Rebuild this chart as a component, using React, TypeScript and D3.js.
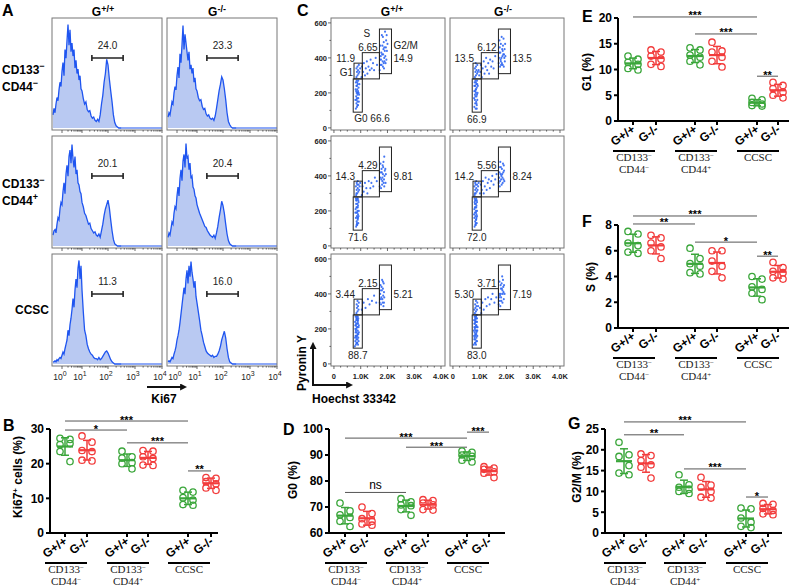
import * as d3 from 'd3';

const SANS = 'Arial, "Liberation Sans", Helvetica, sans-serif';
const SERIF = '"Times New Roman", "Liberation Serif", Times, serif';
const GREEN = '#3aa63a';
const RED = '#f23c3c';
const BLUE = '#1f55f0';
const HFILL = '#b9c9f2';

// ---------- shared categories ----------
const genotypes = ['G+/+', 'G-/-'];
const genoSup = ['+/+', '-/-'];
// [name, superscript] per line
const subsets: [string, string][][] = [
  [['CD133', '−'], ['CD44', '−']],
  [['CD133', '−'], ['CD44', '+']],
  [['CCSC', '']],
];

// ---------- panel A : Ki67 histograms, % of max, bins every 0.05 decade from 10^-0.45 ----------
const HIST_START = -0.45;
const HIST_STEP = 0.05;
const histDnWt = [12,18,14,22,28,25,35,42,38,52, 60,48,72,64,80,95,76,90,70,78, 66,72,55,62,50,54,44,48,36,34, 27,22,24,17,15,16,11,9,10,7, 6,8,6,12,22,30,42,50,63,58, 45,34,24,12,5,2,1,0,0,0];
const histDnKo = [10,14,12,18,24,22,32,38,35,48, 56,46,68,60,76,94,72,86,78,70, 62,70,54,58,50,55,42,46,36,34, 28,25,26,20,17,18,13,11,12,9, 8,9,7,11,18,26,34,40,47,44, 36,26,14,6,3,1,0,0,0,0];
const histCd44Wt = [10,14,15,12,20,26,24,34,40,38, 50,58,48,66,74,64,82,88,76,93, 80,72,82,66,70,58,56,50,48,40, 36,30,28,24,20,21,16,14,12,13, 10,9,11,8,14,20,28,34,38,42, 35,24,14,6,2,1,0,0,0,0];
const histCd44Ko = [8,12,10,16,22,20,30,36,34,46, 54,46,62,70,60,78,84,72,94,80, 82,70,76,62,64,54,52,46,44,38, 34,30,27,24,21,18,17,14,12,10, 9,8,10,7,12,18,26,33,41,37, 30,20,11,5,2,1,0,0,0,0];
const histCcscWt = [2,2,3,2,4,3,5,6,5,8, 11,9,14,18,22,31,26,36,42,50, 60,52,68,78,70,88,95,78,90,68, 48,31,26,18,14,11,9,8,6,5, 5,4,6,4,5,7,9,11,12,10, 7,4,2,1,0,0,0,0,0,0];
const histCcscKo = [2,3,2,4,6,5,9,12,16,22, 26,31,38,46,54,62,70,64,78,86, 74,90,80,94,84,78,70,76,62,56, 48,40,31,26,20,16,12,10,9,8, 7,8,6,7,7,9,12,16,22,26, 30,24,14,6,2,1,0,0,0,0];
const histRows = [[histDnWt, histDnKo], [histCd44Wt, histCd44Ko], [histCcscWt, histCcscKo]];
const ki67Gate = [1.38, 2.56]; // decades
const ki67GatePct = [[24.0, 23.3], [20.1, 20.4], [11.3, 16.0]];
const decadeTicks = [0, 1, 2, 3, 4];

// ---------- panel C : Hoechst / Pyronin Y scatter (x/10, y/10) ----------
const scatterRows = [
  [
    '82,11 86,12 90,13 84,14 88,15 93,15 80,16 86,17 91,17 83,18 88,19 94,19 85,20 90,21 81,22 87,22 92,23 84,24 89,25 95,25 82,26 87,26 91,27 85,27 88,13 85,16 89,20 83,21 86,24 92,20 84,29 88,30 92,31 86,32 95,32 90,33 84,34 98,34 88,35 93,36 103,29 105,35 109,32 112,37 116,30 119,34 123,38 125,31 129,35 134,33 137,39 141,34 146,37 150,33 156,40 161,36 171,33 176,39 174,36 180,42 183,35 185,45 189,38 192,41 195,50 198,44 173,47 177,43 179,53 182,38 186,49 188,40 191,55 194,46 184,42 178,36 181,47 187,34 190,44 196,39 200,48 175,41 183,52 188,46 193,37 172,39 186,37 197,53',
    '80,12 85,11 89,13 83,14 87,15 91,16 79,17 84,18 88,18 82,19 86,20 92,20 80,21 85,22 89,23 83,24 87,25 93,24 81,26 86,26 90,27 84,27 88,14 82,16 86,22 90,19 84,21 80,24 89,11 91,25 82,29 86,30 90,31 84,32 93,32 88,33 82,34 96,33 86,35 91,36 98,30 85,37 102,32 104,36 108,29 111,34 115,38 118,31 122,35 124,40 128,33 132,37 135,31 139,39 143,35 148,38 152,34 158,41 171,37 173,43 176,35 179,48 181,40 184,45 186,36 189,51 191,42 194,38 172,40 175,46 178,39 182,52 185,41 187,47 190,35 193,45 177,43 183,37 188,42 195,48 180,36 174,50 192,40 186,44 179,38 196,41',
  ],
  [
    '83,11 87,12 91,13 85,14 89,15 82,16 86,17 90,18 84,19 88,20 93,20 81,21 86,22 90,23 83,24 88,24 92,25 85,26 89,27 82,27 86,13 90,16 84,22 87,19 85,12 89,22 92,17 83,26 87,27 91,26 80,19 88,16 83,29 87,30 91,31 85,32 89,33 94,32 82,34 87,35 92,35 85,36 96,34 89,37 84,30 98,36 104,29 107,34 111,31 116,36 121,33 125,30 130,37 136,33 140,36 147,34 153,39 160,37 171,34 173,39 176,33 179,42 181,37 184,45 186,36 189,40 192,44 174,47 177,38 180,35 183,41 185,48 188,34 190,43 175,42 182,46 187,38 193,36 178,44 181,39 194,41 188,51',
    '81,11 85,12 89,13 83,14 87,15 80,16 84,17 88,18 82,19 86,20 90,20 80,21 84,22 88,23 82,24 86,24 90,25 83,26 87,27 81,27 85,13 88,16 82,22 86,19 84,12 87,22 90,17 81,25 85,26 89,26 79,18 86,15 81,29 85,30 89,31 83,32 87,33 92,32 80,34 85,35 90,35 83,36 94,34 87,37 82,30 96,36 101,30 104,35 108,32 112,37 115,30 119,34 122,39 126,32 130,36 134,38 138,33 143,37 147,40 152,35 158,38 163,41 171,36 174,42 176,37 179,45 182,35 184,41 187,47 189,38 191,43 173,39 177,48 180,38 183,44 186,36 188,42 175,34 181,40 185,39 190,46 178,41 172,45 192,37',
  ],
  [
    '78,10 82,11 86,12 90,11 80,13 84,14 88,14 92,13 79,15 83,16 87,16 91,17 81,18 85,18 89,19 93,18 80,20 84,20 88,21 92,21 82,22 86,23 90,23 79,24 83,25 87,25 91,26 81,27 85,27 89,27 84,12 88,17 82,19 86,21 90,25 80,22 87,12 93,22 85,15 83,23 89,24 81,16 86,26 91,15 84,26 84,29 88,30 92,31 86,32 90,33 85,34 93,35 88,36 104,31 111,35 118,32 127,37 133,34 142,36 150,39 158,35 171,35 173,40 176,34 178,44 181,37 183,47 185,33 187,41 174,45 177,38 179,42 182,35 184,39 186,46 180,48 175,37 188,38 183,43 172,42 187,35',
    '78,11 82,12 86,11 90,13 80,14 84,14 88,15 79,16 83,17 87,17 91,16 81,18 85,19 89,19 80,21 84,21 88,22 92,21 82,23 86,24 90,24 79,25 83,26 87,26 81,27 85,27 89,28 84,12 88,18 82,20 86,22 90,26 80,23 87,13 85,16 83,24 89,21 81,15 86,27 91,19 84,25 78,19 82,29 86,30 90,31 84,32 88,33 83,34 91,35 86,36 94,33 80,31 101,32 106,29 110,35 115,31 121,37 126,33 131,38 137,34 143,37 148,40 155,35 162,38 171,34 173,40 175,36 178,45 180,38 183,43 185,35 187,48 189,41 174,47 176,39 179,43 181,36 184,50 186,40 188,44 190,37 177,33 182,46 185,42 172,38 191,45 179,40 193,40',
  ],
];
// gate boxes [x0, x1, y0, y1] in data units
const gateG0 = [720, 1060, 90, 280];
const gateG1 = [750, 1060, 280, 370];
const gateS = [1060, 1700, 280, 430];
const gateG2M = [1700, 2150, 310, 565];
const pctG0 = [[66.6, 66.9], [71.6, 72.0], [88.7, 83.0]];
const pctG1 = [[11.9, 13.5], [14.3, 14.2], [3.44, 5.30]];
const pctS = [[6.65, 6.12], [4.29, 5.56], [2.15, 3.71]];
const pctG2M = [[14.9, 13.5], [9.81, 8.24], [5.21, 7.19]];
const pyroTicks = [0, 200, 400, 600];
const hoechstTicks = [0, 1000, 2000, 3000, 4000];
const hoechstLabels = ['0', '1.0K', '2.0K', '3.0K', '4.0K'];

// ---------- dot plots, groups: DN wt, DN ko, CD44+ wt, CD44+ ko, CCSC wt, CCSC ko ----------
const ki67Values = [
  [27.3, 27.0, 25.5, 25.8, 23.5, 20.6],
  [28.0, 26.2, 23.8, 23.5, 21.0, 20.8],
  [23.6, 22.0, 21.6, 20.3, 20.0, 18.5],
  [23.8, 23.6, 22.0, 21.5, 19.6, 19.5],
  [12.3, 11.8, 10.2, 9.5, 8.2, 8.0],
  [16.0, 15.8, 14.8, 14.2, 13.0, 12.3],
];
const g0Values = [
  [71.5, 68.5, 67.0, 66.0, 64.5, 62.5],
  [70.0, 67.5, 65.5, 64.5, 63.5, 63.0],
  [73.2, 72.0, 70.8, 70.5, 69.0, 66.8],
  [72.8, 72.5, 71.5, 70.8, 69.0, 68.8],
  [91.5, 91.0, 90.0, 89.5, 88.0, 87.3],
  [85.5, 85.0, 84.5, 83.5, 83.0, 81.3],
];
const g1Values = [
  [12.6, 12.0, 11.4, 11.0, 10.2, 9.9],
  [13.8, 13.4, 12.6, 12.0, 11.0, 10.6],
  [14.2, 13.8, 12.8, 12.4, 11.6, 10.9],
  [15.3, 13.6, 13.4, 12.4, 11.6, 10.5],
  [4.4, 4.1, 3.6, 3.3, 3.0, 2.9],
  [7.5, 6.9, 6.3, 5.6, 5.0, 4.5],
];
const sValues = [
  [7.5, 7.3, 6.6, 6.4, 5.9, 5.8],
  [7.2, 7.0, 6.6, 6.3, 6.0, 5.4],
  [6.2, 5.4, 5.0, 4.8, 4.3, 4.2],
  [6.0, 6.0, 5.2, 4.8, 4.4, 3.9],
  [4.0, 3.8, 3.2, 3.0, 2.7, 2.2],
  [5.1, 4.7, 4.4, 4.3, 3.9, 3.8],
];
const g2mValues = [
  [21.8, 18.8, 18.4, 16.2, 14.4, 14.0],
  [19.0, 18.6, 17.4, 16.4, 15.8, 13.2],
  [14.0, 11.6, 11.0, 10.5, 10.0, 9.5],
  [13.4, 11.5, 11.0, 10.0, 8.6, 8.4],
  [6.0, 5.8, 3.6, 2.6, 1.6, 1.3],
  [7.1, 6.9, 5.9, 5.4, 4.6, 4.4],
];
// [from group, to group, level, label]
const ki67Sig: [number, number, number, string][] = [[0, 4, 32.3, '***'], [0, 2, 29.7, '*'], [2, 4, 26.0, '***'], [4, 5, 17.9, '**']];
const g0Sig: [number, number, number, string][] = [[0, 4, 96.5, '***'], [2, 4, 93.0, '***'], [4, 5, 98.8, '***'], [0, 2, 75.6, 'ns']];
const g1Sig: [number, number, number, string][] = [[0, 4, 20.2, '***'], [2, 4, 16.9, '***'], [4, 5, 8.7, '**']];
const sSig: [number, number, number, string][] = [[0, 4, 8.7, '***'], [0, 2, 8.08, '**'], [2, 4, 6.67, '*'], [4, 5, 5.58, '**']];
const g2mSig: [number, number, number, string][] = [[0, 4, 26.7, '***'], [0, 2, 23.6, '**'], [2, 4, 15.4, '***'], [4, 5, 8.65, '*']];

type DotCfg = {
  letter: string; lx: number; ly: number;
  x0: number; top: number; bottom: number; len: number;
  domain: [number, number]; ticks: number[]; offsets: number[];
  values: number[][]; sig: [number, number, number, string][];
  title: [string, string][]; tx: number; ty: number;
};

const dotPanels: DotCfg[] = [
  { letter: 'B', lx: 3, ly: 431, x0: 50, top: 429, bottom: 533, len: 168, domain: [0, 30], ticks: [0, 10, 20, 30],
    offsets: [15, 37, 77, 98, 138, 161], values: ki67Values, sig: ki67Sig,
    title: [['Ki67', '+'], [' cells (%)', '']], tx: 22, ty: 477 },
  { letter: 'D', lx: 283, ly: 435, x0: 329, top: 429, bottom: 533, len: 176, domain: [60, 100], ticks: [60, 70, 80, 90, 100],
    offsets: [16, 38, 77, 99, 138, 160], values: g0Values, sig: g0Sig,
    title: [['G0 (%)', '']], tx: 297, ty: 480 },
  { letter: 'E', lx: 582, ly: 22, x0: 618, top: 18, bottom: 121, len: 171, domain: [0, 20], ticks: [0, 5, 10, 15, 20],
    offsets: [15, 38, 77, 99, 139, 160], values: g1Values, sig: g1Sig,
    title: [['G1 (%)', '']], tx: 591, ty: 72 },
  { letter: 'F', lx: 582, ly: 227, x0: 618, top: 225, bottom: 328, len: 171, domain: [0, 8], ticks: [0, 2, 4, 6, 8],
    offsets: [15, 38, 77, 99, 139, 160], values: sValues, sig: sSig,
    title: [['S (%)', '']], tx: 595, ty: 277 },
  { letter: 'G', lx: 568, ly: 429, x0: 605, top: 429, bottom: 533, len: 177, domain: [0, 25], ticks: [0, 5, 10, 15, 20, 25],
    offsets: [19, 41, 79, 101, 141, 163], values: g2mValues, sig: g2mSig,
    title: [['G2/M (%)', '']], tx: 581, ty: 477 },
];

// ---------- layout ----------
const ROW_Y = [18, 136, 254];
const BOX_H = 112;
const HIST_X = [52, 167];
const HIST_W = 110;
const SCAT_X = [331, 450];
const SCAT_W = 114;

function titleSpans(parts: [string, string][]) {
  const out: JSX.Element[] = [];
  let shifted = false;
  parts.forEach(([t, s], i) => {
    if (t) {
      out.push(<tspan key={`t${i}`} dy={shifted ? 4 : 0}>{t}</tspan>);
      shifted = false;
    }
    if (s) {
      out.push(<tspan key={`s${i}`} fontSize={8} dy={-4}>{s}</tspan>);
      shifted = true;
    }
  });
  return out;
}

function GenoHeader({ x, i }: { x: number; i: number }) {
  return (
    <text x={x} y={16} textAnchor="middle" fontWeight="bold" fontSize={12}>
      G<tspan fontSize={9} dy={-4}>{genoSup[i]}</tspan>
    </text>
  );
}

function Histo({ row, col }: { row: number; col: number }) {
  const x0 = HIST_X[col];
  const y0 = ROW_Y[row];
  const data = histRows[row][col];
  const xs = d3.scaleLinear().domain(decadeTicks).range([x0 + 10, x0 + 30, x0 + 56, x0 + 83, x0 + 110]);
  const ys = d3.scaleLinear().domain([0, 100]).range([y0 + BOX_H - 2, y0 + 1]);
  const pts: [number, number][] = data.map((v, i) => [HIST_START + i * HIST_STEP, v]);
  const area = d3.area<[number, number]>().x(d => xs(d[0])).y0(ys(0)).y1(d => ys(d[1]));
  const line = d3.line<[number, number]>().x(d => xs(d[0])).y(d => ys(d[1]));
  const lastX = xs(pts[pts.length - 1][0]);
  const minor: { p: number; major: boolean }[] = [];
  for (let d = 0; d < 4; d++) for (let m = 1; m < 10; m++) minor.push({ p: d + Math.log10(m), major: m === 1 });
  minor.push({ p: 4, major: true });
  const gy = y0 + 40;
  const g1 = xs(ki67Gate[0]);
  const g2 = xs(ki67Gate[1]);
  return (
    <g>
      <path d={area(pts) || ''} fill={HFILL} />
      <path d={line(pts) || ''} fill="none" stroke={BLUE} strokeWidth={1.3} />
      <line x1={lastX} x2={x0 + HIST_W} y1={ys(0)} y2={ys(0)} stroke={BLUE} strokeWidth={1.2} />
      <rect x={x0} y={y0} width={HIST_W} height={BOX_H} fill="none" stroke="#777" strokeWidth={1} />
      {minor.map((t, i) => (
        <line key={i} x1={xs(t.p)} x2={xs(t.p)} y1={y0 + BOX_H} y2={y0 + BOX_H + (t.major ? 3 : 1.6)} stroke="#444" strokeWidth={0.8} />
      ))}
      <line x1={g1} x2={g2} y1={gy} y2={gy} stroke="#222" strokeWidth={1.6} />
      <line x1={g1} x2={g1} y1={gy - 3} y2={gy + 3} stroke="#222" strokeWidth={1.6} />
      <line x1={g2} x2={g2} y1={gy - 3} y2={gy + 3} stroke="#222" strokeWidth={1.6} />
      <text x={(g1 + g2) / 2} y={y0 + 31} textAnchor="middle" fontSize={10} fill="#222">{ki67GatePct[row][col].toFixed(1)}</text>
      {row === 2 && decadeTicks.map(d => (
        <text key={d} x={xs(d) - 2} y={380} textAnchor="middle" fontSize={8.5} fill="#222">
          10<tspan fontSize={7} dy={-4}>{d}</tspan>
        </text>
      ))}
    </g>
  );
}

function PanelA() {
  const rowLabelBase = [[74, 91], [188, 205], [314]];
  return (
    <g>
      <text x={2} y={16} fontSize={16} fontWeight="bold">A</text>
      <GenoHeader x={103} i={0} />
      <GenoHeader x={217} i={1} />
      {subsets.map((lines, r) => lines.map(([t, s], k) => (
        <text key={`${r}-${k}`} x={lines.length === 1 ? 15 : 2} y={rowLabelBase[r][k]} fontSize={12} fontWeight="bold">
          {t}{s ? <tspan fontSize={9} dy={-5}>{s}</tspan> : null}
        </text>
      )))}
      {[0, 1, 2].map(r => [0, 1].map(c => <Histo key={`${r}${c}`} row={r} col={c} />))}
      <line x1={147} x2={185} y1={387} y2={387} stroke="#111" strokeWidth={2} markerEnd="url(#arr)" />
      <text x={164} y={403} textAnchor="middle" fontSize={12} fontWeight="bold">Ki67</text>
    </g>
  );
}

const fmtPct = (v: number) => (v >= 10 ? v.toFixed(1) : v.toFixed(2));

function Scatter({ row, col }: { row: number; col: number }) {
  const x0 = SCAT_X[col];
  const y0 = ROW_Y[row];
  const xs = d3.scaleLinear().domain([-110, 4150]).range([x0, x0 + SCAT_W]);
  const ys = d3.scaleLinear().domain([-12, 628]).range([y0 + BOX_H, y0]);
  const pts = scatterRows[row][col].split(' ').map(p => p.split(',').map(v => +v * 10));
  const gate = (g: number[]) => (
    <rect x={xs(g[0])} y={ys(g[3])} width={xs(g[1]) - xs(g[0])} height={ys(g[2]) - ys(g[3])} fill="none" stroke="#222" strokeWidth={1} />
  );
  const first = row === 0 && col === 0;
  const g1Base = ys(gateG1[3]) - 1.5;
  const sx = (xs(gateS[0]) + xs(gateS[1])) / 2 - 3;
  const g0x = (xs(gateG0[0]) + xs(gateG0[1])) / 2;
  const xMinor = d3.range(0, 4001, 250);
  const yMinor = d3.range(0, 601, 100);
  return (
    <g>
      <rect x={x0} y={y0} width={SCAT_W} height={BOX_H} fill="none" stroke="#777" strokeWidth={1} />
      {xMinor.map(v => (
        <line key={v} x1={xs(v)} x2={xs(v)} y1={y0 + BOX_H} y2={y0 + BOX_H + (v % 1000 === 0 ? 3 : 1.6)} stroke="#444" strokeWidth={0.8} />
      ))}
      {col === 0 && yMinor.map(v => (
        <line key={v} x1={x0} x2={x0 - (v % 200 === 0 ? 3 : 1.6)} y1={ys(v)} y2={ys(v)} stroke="#444" strokeWidth={0.8} />
      ))}
      {col === 0 && pyroTicks.map(v => (
        <text key={v} x={x0 - 4} y={ys(v) + 3} textAnchor="end" fontSize={7.5} fontWeight="bold" fill="#222">{v}</text>
      ))}
      {row === 2 && hoechstTicks.map((v, i) => (
        <text key={v} x={xs(v)} y={379} textAnchor="middle" fontSize={7.5} fontWeight="bold" fill="#222">{hoechstLabels[i]}</text>
      ))}
      {pts.map((p, i) => <circle key={i} cx={xs(p[0])} cy={ys(p[1])} r={1.05} fill="#2f66f2" opacity={0.9} />)}
      {gate(gateG0)}
      {gate(gateG1)}
      {gate(gateS)}
      {gate(gateG2M)}
      <g fontSize={10} fill="#222">
        <text x={sx} y={ys(gateS[3]) - 2} textAnchor="middle">{pctS[row][col].toFixed(2)}</text>
        <text x={xs(gateG1[0]) + 1} y={g1Base} textAnchor="end">{fmtPct(pctG1[row][col])}</text>
        <text x={xs(gateG2M[1]) + 2} y={g1Base}>{fmtPct(pctG2M[row][col])}</text>
        {first ? (
          <>
            <text x={xs(gateG0[0]) + 1} y={ys(gateG0[2]) + 10}>G0 {pctG0[row][col].toFixed(1)}</text>
            <text x={sx - 1} y={ys(gateS[3]) - 16} textAnchor="middle">S</text>
            <text x={xs(gateG2M[1]) + 2} y={g1Base - 13}>G2/M</text>
            <text x={xs(gateG1[0]) - 1} y={g1Base + 14} textAnchor="end">G1</text>
          </>
        ) : (
          <text x={g0x} y={ys(gateG0[2]) + 11} textAnchor="middle">{pctG0[row][col].toFixed(1)}</text>
        )}
      </g>
    </g>
  );
}

function PanelC() {
  return (
    <g>
      <text x={297} y={16} fontSize={16} fontWeight="bold">C</text>
      <GenoHeader x={392} i={0} />
      <GenoHeader x={503} i={1} />
      {[0, 1, 2].map(r => [0, 1].map(c => <Scatter key={`${r}${c}`} row={r} col={c} />))}
      <line x1={313} x2={313} y1={386} y2={344} stroke="#111" strokeWidth={2} markerEnd="url(#arr)" />
      <line x1={312} x2={351} y1={385} y2={385} stroke="#111" strokeWidth={2} markerEnd="url(#arr)" />
      <text transform="translate(306,363) rotate(-90)" textAnchor="middle" fontSize={12} fontWeight="bold">Pyronin Y</text>
      <text x={312} y={403} fontSize={12} fontWeight="bold">Hoechst 33342</text>
    </g>
  );
}

function DotPlot({ p }: { p: DotCfg }) {
  const y = d3.scaleLinear().domain(p.domain).range([p.bottom, p.top]);
  const gx = (i: number) => p.x0 + p.offsets[i];
  return (
    <g>
      <text x={p.lx} y={p.ly} fontSize={16} fontWeight="bold">{p.letter}</text>
      <text transform={`translate(${p.tx},${p.ty}) rotate(-90)`} textAnchor="middle" fontSize={12} fontWeight="bold">
        {titleSpans(p.title)}
      </text>
      {/* significance */}
      {p.sig.map(([a, b, lv, lab], i) => (
        <g key={i}>
          <line x1={gx(a)} x2={gx(b)} y1={y(lv)} y2={y(lv)} stroke="#555" strokeWidth={1} />
          {lab === 'ns'
            ? <text x={(gx(a) + gx(b)) / 2} y={y(lv) - 3} textAnchor="middle" fontSize={12}>ns</text>
            : <text x={(gx(a) + gx(b)) / 2} y={y(lv) + 2.5} textAnchor="middle" fontSize={11} fontWeight="bold">{lab}</text>}
        </g>
      ))}
      {/* data */}
      {p.values.map((vals, gi) => {
        const color = gi % 2 === 0 ? GREEN : RED;
        const m = d3.mean(vals) as number;
        const sd = d3.deviation(vals) as number;
        const cx = gx(gi);
        return (
          <g key={gi}>
            {vals.map((v, j) => (
              <circle key={j} cx={cx + (j % 2 === 0 ? -5 : 5)} cy={y(v)} r={3.2} fill="none" stroke={color} strokeWidth={1.3} />
            ))}
            <line x1={cx} x2={cx} y1={y(m - sd)} y2={y(m + sd)} stroke={color} strokeWidth={1.5} />
            <line x1={cx - 4} x2={cx + 4} y1={y(m - sd)} y2={y(m - sd)} stroke={color} strokeWidth={1.5} />
            <line x1={cx - 4} x2={cx + 4} y1={y(m + sd)} y2={y(m + sd)} stroke={color} strokeWidth={1.5} />
            <line x1={cx - 8} x2={cx + 8} y1={y(m)} y2={y(m)} stroke={color} strokeWidth={2.2} />
          </g>
        );
      })}
      {/* axes */}
      <line x1={p.x0} x2={p.x0} y1={p.top} y2={p.bottom} stroke="#000" strokeWidth={2} />
      <line x1={p.x0 - 1} x2={p.x0 + p.len} y1={p.bottom} y2={p.bottom} stroke="#000" strokeWidth={2} />
      {p.ticks.map(t => (
        <g key={t}>
          <line x1={p.x0 - 4} x2={p.x0} y1={y(t)} y2={y(t)} stroke="#000" strokeWidth={2} />
          <text x={p.x0 - 6} y={y(t) + 4.3} textAnchor="end" fontSize={12} fontWeight="bold">{t}</text>
        </g>
      ))}
      {p.offsets.map((_, gi) => (
        <g key={gi}>
          <line x1={gx(gi)} x2={gx(gi)} y1={p.bottom} y2={p.bottom + 4} stroke="#000" strokeWidth={2} />
          <text transform={`translate(${gx(gi) + 3},${p.bottom + 10}) rotate(-35)`} textAnchor="end" fontSize={12} fontWeight="bold">
            {genotypes[gi % 2]}
          </text>
        </g>
      ))}
      {subsets.map((lines, k) => {
        const cx = gx(2 * k) + 1;
        return (
          <g key={k}>
            <line x1={cx - 21} x2={cx + 21} y1={p.bottom + 30} y2={p.bottom + 30} stroke="#000" strokeWidth={2} />
            {lines.map(([t, s], li) => (
              <text key={li} x={cx} y={p.bottom + 40 + li * 12} textAnchor="middle" fontFamily={SERIF} fontSize={11} fill="#222">
                {t}{s ? <tspan fontSize={7} dy={-3.5}>{s}</tspan> : null}
              </text>
            ))}
          </g>
        );
      })}
    </g>
  );
}

export default function App() {
  return (
    <div style={{ position: 'absolute', left: 0, top: 0 }}>
      <svg width={789} height={587} viewBox="0 0 789 587" style={{ display: 'block', background: '#fff' }} fontFamily={SANS}>
        <defs>
          <marker id="arr" viewBox="0 0 10 10" refX="7" refY="5" markerWidth="3.5" markerHeight="3.5" orient="auto">
            <path d="M0,0 L10,5 L0,10 z" fill="#111" />
          </marker>
        </defs>
        <rect width={789} height={587} fill="#fff" />
        <PanelA />
        <PanelC />
        {dotPanels.map(p => <DotPlot key={p.letter} p={p} />)}
      </svg>
    </div>
  );
}
